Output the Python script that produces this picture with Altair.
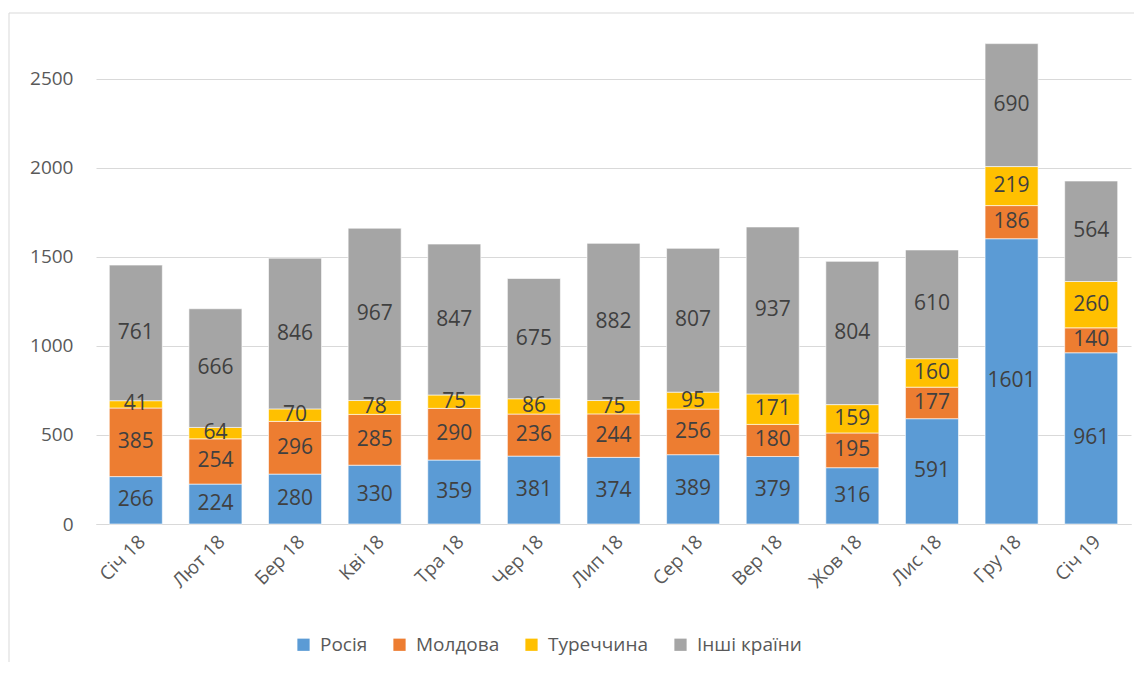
import altair as alt
import pandas as pd

months = ["Січ 18", "Лют 18", "Бер 18", "Кві 18", "Тра 18", "Чер 18", "Лип 18",
          "Сер 18", "Вер 18", "Жов 18", "Лис 18", "Гру 18", "Січ 19"]
series = ["Росія", "Молдова", "Туреччина", "Інші країни"]
colors = ["#5B9BD5", "#ED7D31", "#FFC000", "#A5A5A5"]

russia = [266, 224, 280, 330, 359, 381, 374, 389, 379, 316, 591, 1601, 961]
moldova = [385, 254, 296, 285, 290, 236, 244, 256, 180, 195, 177, 186, 140]
turkey = [41, 64, 70, 78, 75, 86, 75, 95, 171, 159, 160, 219, 260]
others = [761, 666, 846, 967, 847, 675, 882, 807, 937, 804, 610, 690, 564]

rows = []
for s_i, (name, vals) in enumerate(zip(series, [russia, moldova, turkey, others])):
    for m, v in zip(months, vals):
        rows.append({"month": m, "series": name, "value": v, "order": s_i})
df = pd.DataFrame(rows)

FONT = "Open Sans"

base = alt.Chart(df).transform_stack(
    stack="value", groupby=["month"], as_=["y0", "y1"],
    sort=[alt.SortField("order", order="ascending")]
).transform_calculate(mid="(datum.y0 + datum.y1) / 2")

xenc = alt.X("month:N", sort=months, title=None,
             scale=alt.Scale(paddingInner=0.334, paddingOuter=0.167),
             axis=alt.Axis(labelAngle=-45, labelFontSize=19, labelColor="#595959",
                           labelFont=FONT, ticks=False, domainColor="#d9d9d9",
                           domainWidth=1, labelPadding=8, grid=False))

bars = base.mark_bar(stroke="white", strokeWidth=0.6).encode(
    x=xenc,
    y=alt.Y("y0:Q", title=None,
            scale=alt.Scale(domain=[0, 2750], nice=False),
            axis=alt.Axis(values=[0, 500, 1000, 1500, 2000, 2500], ticks=False,
                          format="d",
                          domain=False, gridColor="#d9d9d9", gridWidth=1,
                          labelFontSize=19, labelColor="#595959", labelFont=FONT,
                          labelPadding=23, minExtent=82)),
    y2="y1:Q",
    color=alt.Color("series:N", sort=series, title=None,
                    scale=alt.Scale(domain=series, range=colors),
                    legend=alt.Legend(orient="none", legendX=198, legendY=601,
                                      direction="horizontal", symbolType="square",
                                      symbolSize=150, symbolStrokeWidth=0,
                                      labelFontSize=19, labelColor="#595959",
                                      labelFont=FONT, labelOffset=7,
                                      columnPadding=22)),
    order=alt.Order("order:Q"),
)

labels = base.mark_text(fontSize=21, font=FONT, color="#404040").encode(
    x=alt.X("month:N", sort=months),
    y=alt.Y("mid:Q"),
    text=alt.Text("value:Q", format="d"),
)

one = pd.DataFrame({"a": [0]})
top_edge = alt.Chart(one).mark_rule(color="#d9d9d9", strokeWidth=1, clip=False).encode(
    x=alt.value(-87), x2=alt.value(1038), y=alt.value(-21))
left_edge = alt.Chart(one).mark_rule(color="#d9d9d9", strokeWidth=1, clip=False).encode(
    x=alt.value(-87), y=alt.value(-21), y2=alt.value(628))

chart = alt.layer(top_edge, left_edge, bars, labels).properties(
    width=1035, height=490,
    padding={"left": 0, "top": 4, "right": 0, "bottom": 0},
).configure(background="white").configure_view(stroke=None)

chart.save("out.html", embed_options={"renderer": "svg", "actions": False})
